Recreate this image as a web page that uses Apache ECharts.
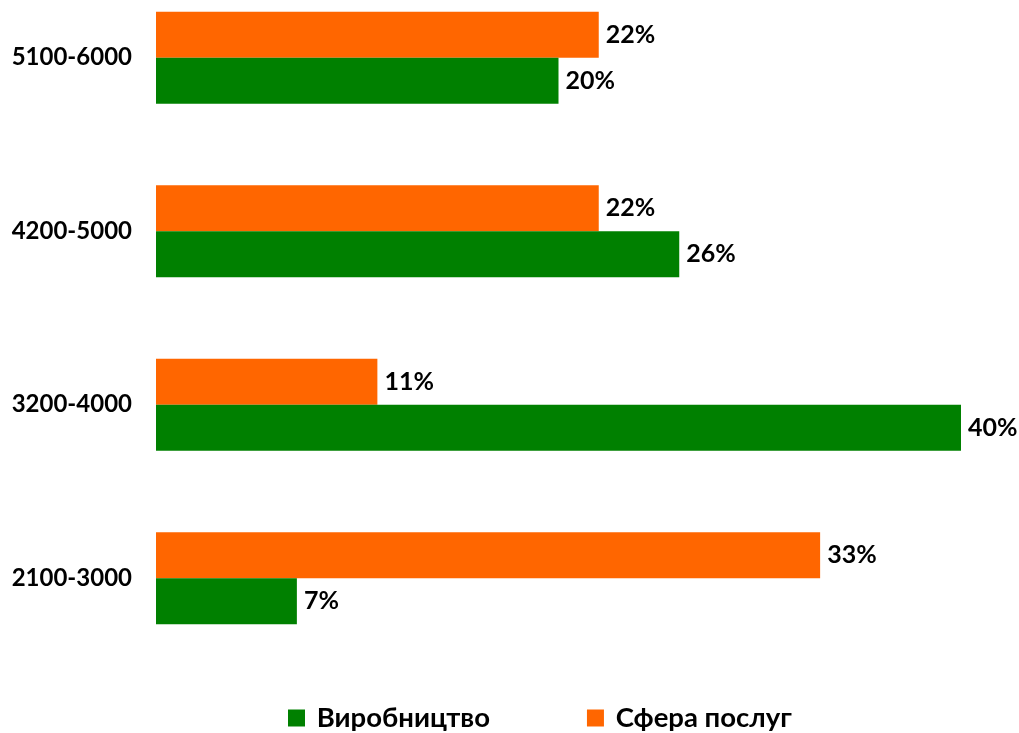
<!DOCTYPE html>
<html>
<head>
<meta charset="utf-8">
<script src="https://cdn.jsdelivr.net/npm/echarts@6/dist/echarts.min.js"></script>
<style>
  html, body { margin: 0; padding: 0; background: #fff; }
  #chart { width: 1019px; height: 733px; }
</style>
</head>
<body>
<div id="chart"></div>
<script>
// Salary bands, bottom to top
const categories = ['2100-3000', '3200-4000', '4200-5000', '5100-6000'];
// Share of workers per band, %
const seriesNames = ['Виробництво', 'Сфера послуг'];
const production = [7, 40, 26, 20];
const services = [33, 11, 22, 22];
const colors = { 'Виробництво': '#008000', 'Сфера послуг': '#FF6600' };

const FONT = 'Lato, "Open Sans", sans-serif';

const chart = echarts.init(document.getElementById('chart'), null, { renderer: 'canvas' });

const labelStyle = {
  show: true,
  position: 'right',
  distance: 7,
  formatter: '{c}%',
  fontFamily: FONT,
  fontWeight: 'bold',
  fontSize: 25,
  color: '#000'
};

// Services bar is drawn above the production bar in each band
const barSeries = [
  { name: seriesNames[1], data: services },
  { name: seriesNames[0], data: production }
].map(s => ({
  name: s.name,
  type: 'bar',
  data: s.data,
  itemStyle: { color: colors[s.name] },
  barWidth: 46,
  barGap: '0%',
  label: labelStyle
}));

chart.setOption({
  animation: false,
  backgroundColor: '#fff',
  legend: {
    bottom: 0,
    left: 288,
    padding: [0, 0, 0, 0],
    itemWidth: 17,
    itemHeight: 17,
    itemGap: 97,
    icon: 'rect',
    formatter: name => ' ' + name,
    textStyle: { fontFamily: FONT, fontWeight: 'bold', fontSize: 27.5, color: '#000', lineHeight: 30 },
    data: seriesNames
  },
  grid: { left: 156, width: 805, top: -29, height: 694, outerBoundsMode: 'none', containLabel: false },
  xAxis: {
    type: 'value',
    min: 0,
    max: 40,
    show: false
  },
  yAxis: {
    type: 'category',
    data: categories,
    axisLine: { show: false },
    axisTick: { show: false },
    axisLabel: {
      margin: 24,
      fontFamily: FONT,
      fontWeight: 'bold',
      fontSize: 24,
      color: '#000'
    }
  },
  series: barSeries
});
</script>
</body>
</html>
